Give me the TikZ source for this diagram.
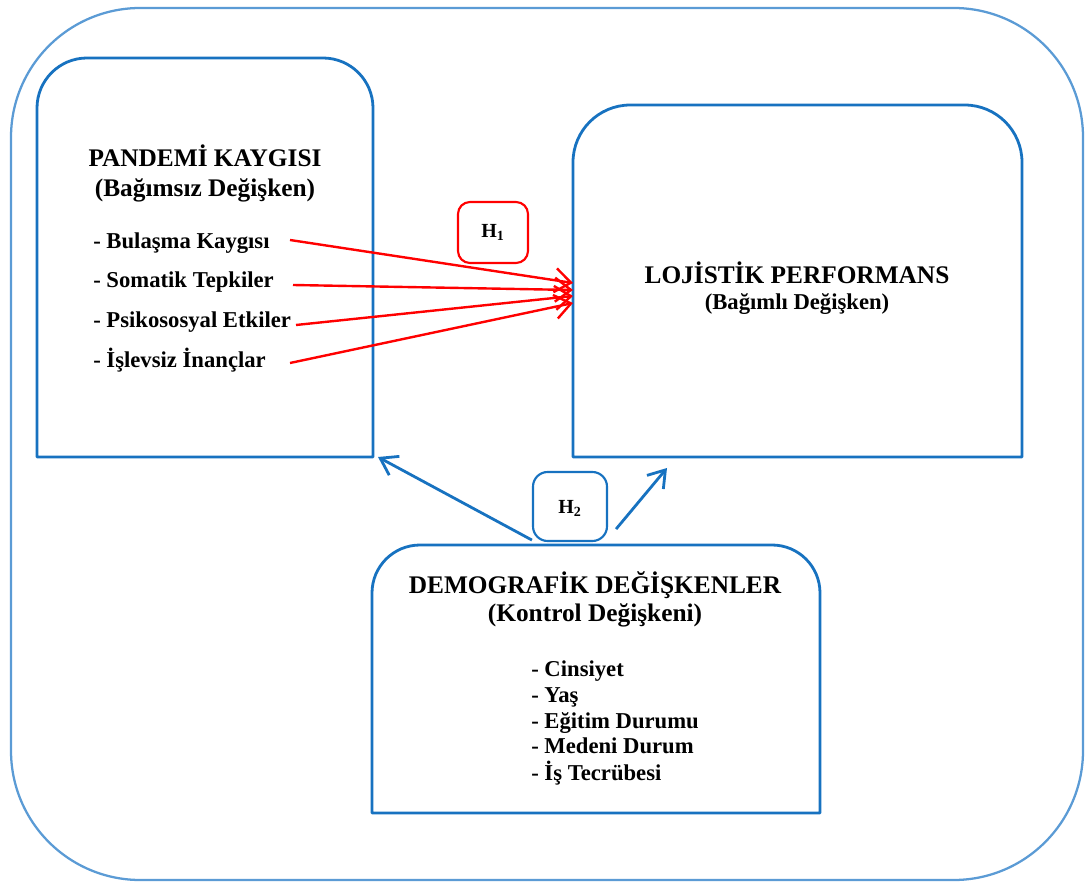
\documentclass[tikz,border=0pt]{standalone}
\usepackage{fontspec}
\setmainfont{Liberation Serif}
\usetikzlibrary{arrows.meta,calc}

\definecolor{boxblue}{RGB}{23,114,192}
\definecolor{frameblue}{RGB}{91,155,213}
\definecolor{linkred}{RGB}{255,0,0}

\tikzset{
  area/.style={draw=none, inner sep=0pt, outer sep=0pt},
  boxline/.style={draw=boxblue, line width=2.1pt, line join=round},
  framebox/.style={draw=frameblue, line width=1.7pt, rounded corners=97pt, inner sep=0pt},
  hred/.style={draw=linkred, line width=1.6pt, rounded corners=9pt, inner sep=0pt},
  hblue/.style={draw=boxblue, line width=1.6pt, rounded corners=11pt, inner sep=0pt},
  title/.style={anchor=base, inner sep=0pt, font=\fontsize{19}{22}\selectfont\bfseries},
  item/.style={anchor=base west, inner sep=0pt, font=\fontsize{17}{20}\selectfont\bfseries},
  redlink/.style={draw=linkred, line width=1.8pt, -{Straight Barb[length=12pt,width=18pt,line width=1.8pt]}},
  bluelink/.style={draw=boxblue, line width=2.1pt, -{Straight Barb[length=12pt,width=16pt,line width=2.1pt]}},
}

% box outline with rounded top corners and square bottom corners
\newcommand\toproundbox[2]{%
  \draw[boxline] (#1.south west) -- ([yshift=-#2]#1.north west)
    arc[start angle=180,end angle=90,radius=#2]
    -- ([xshift=-#2]#1.north east)
    arc[start angle=90,end angle=0,radius=#2]
    -- (#1.south east) -- cycle;}

\begin{document}
\begin{tikzpicture}[x=0.75pt,y=0.75pt]
\useasboundingbox (0,0) rectangle (1089,883);

% outer frame
\node[framebox, minimum width=804pt, minimum height=654pt] (frame) at (547,439) {};

% main boxes
\node[area, minimum width=252pt, minimum height=299.25pt] (L) at (205,625.5) {};
\node[area, minimum width=336.75pt, minimum height=264pt] (R) at (797.5,602) {};
\node[area, minimum width=336pt, minimum height=201pt] (D) at (596,204) {};
\toproundbox{L}{37.5pt}
\toproundbox{R}{43pt}
\toproundbox{D}{36pt}

% hypothesis labels
\node[hred, minimum width=52.5pt, minimum height=45.75pt] (H1) at (493,650.5) {};
\node[hblue, minimum width=55.5pt, minimum height=51.75pt] (H2) at (570,376.5) {};
\node[anchor=base, inner sep=0pt, font=\fontsize{15}{18}\selectfont\bfseries] (h1t) at (493,645) {H$_{\mathbf 1}$};
\node[anchor=base, inner sep=0pt, font=\fontsize{15}{18}\selectfont\bfseries] (h2t) at (570,369) {H$_{\mathbf 2}$};

% independent variable
\node[title] (Lt1) at (205,716) {PANDEMİ KAYGISI};
\node[title] (Lt2) at (205,686) {(Bağımsız Değişken)};
\node[item] (i1) at (93,634) {- Bulaşma Kaygısı};
\node[item] (i2) at (93,595) {- Somatik Tepkiler};
\node[item] (i3) at (93,555) {- Psikososyal Etkiler};
\node[item] (i4) at (93,515) {- İşlevsiz İnançlar};

% dependent variable
\node[title] (Rt1) at (797,599) {LOJİSTİK PERFORMANS};
\node[title, font=\fontsize{17}{20}\selectfont\bfseries] (Rt2) at (797,573) {(Bağımlı Değişken)};

% control variable
\node[title] (Dt1) at (595,290) {DEMOGRAFİK DEĞİŞKENLER};
\node[title] (Dt2) at (595,262) {(Kontrol Değişkeni)};
\node[item] (d1) at (531,207) {- Cinsiyet};
\node[item] (d2) at (531,181) {- Yaş};
\node[item] (d3) at (531,155) {- Eğitim Durumu};
\node[item] (d4) at (531,130) {- Medeni Durum};
\node[item] (d5) at (531,103) {- İş Tecrübesi};

% H1 links
\coordinate (s1) at (290,643);
\coordinate (s2) at (293,598);
\coordinate (s3) at (296,558);
\coordinate (s4) at (290,520);
\draw[redlink] (s1) -- ($(R.west)+(0,-2)$);
\draw[redlink] (s2) -- ($(R.west)+(0,-9)$);
\draw[redlink] (s3) -- ($(R.west)+(0,-15)$);
\draw[redlink] (s4) -- ($(R.west)+(0,-22)$);

% H2 links
\coordinate (b1) at ($(H2.south west)+(0,2)$);
\coordinate (b2) at ($(H2.south east)+(8,13)$);
\draw[bluelink] (b1) -- ($(L.south east)+(5,0)$);
\draw[bluelink] (b2) -- ($(R.south west)+(94,-11)$);
\end{tikzpicture}
\end{document}
